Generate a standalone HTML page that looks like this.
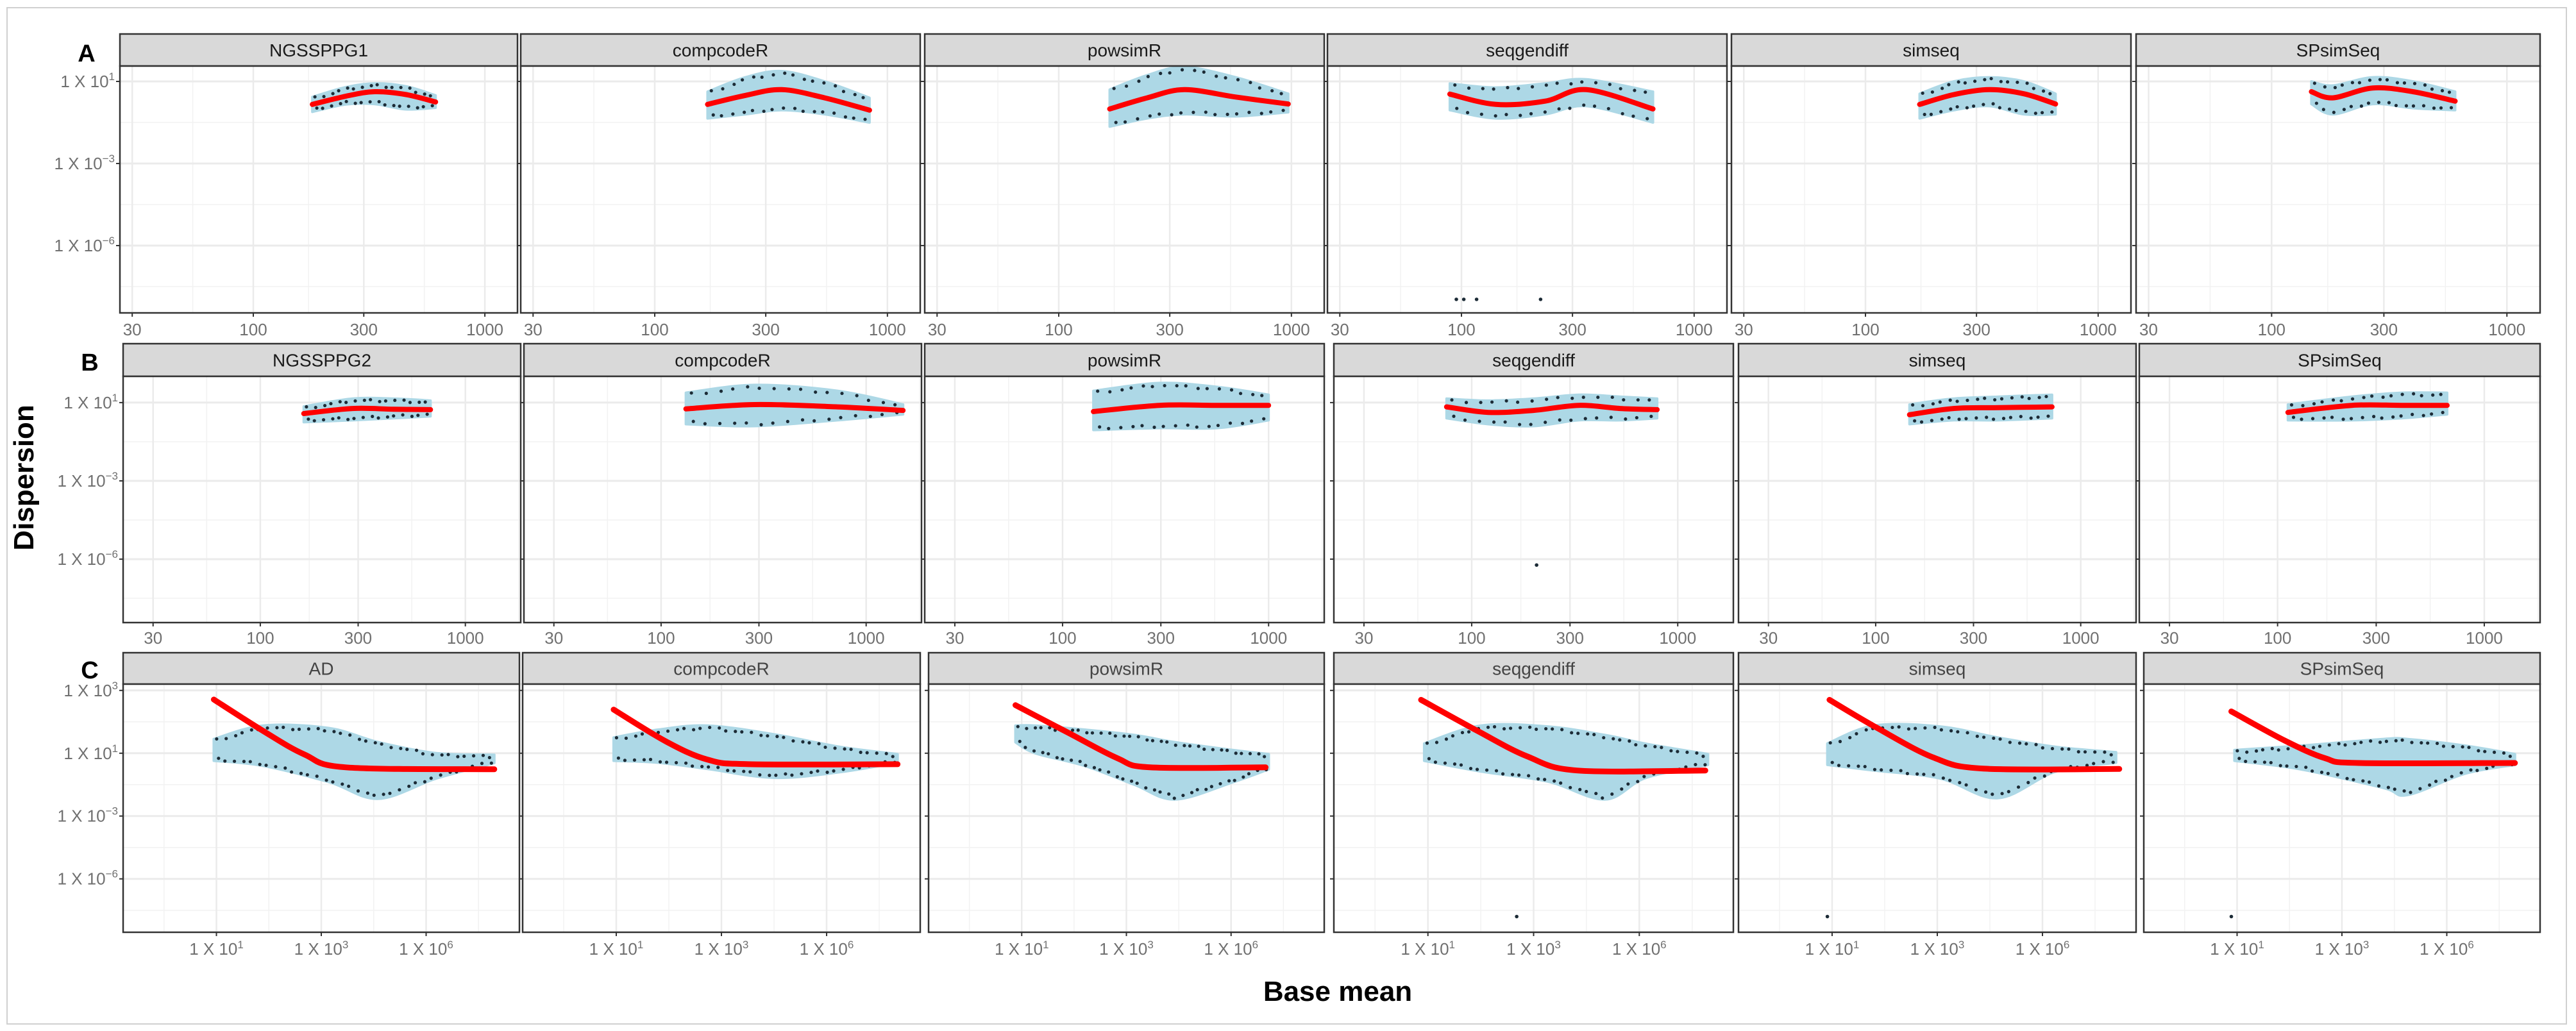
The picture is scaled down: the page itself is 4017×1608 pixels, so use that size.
<!DOCTYPE html>
<html><head><meta charset="utf-8"><style>
html,body{margin:0;padding:0;background:#fff;}
svg{display:block;font-family:"Liberation Sans",sans-serif;}
</style></head><body>
<svg id="fig" width="4017" height="1608" viewBox="0 0 4017 1608" xmlns="http://www.w3.org/2000/svg">
<rect x="11" y="12" width="3991" height="1585" fill="#fff" stroke="#d0d0d0" stroke-width="2"/>
<text x="0" y="0" transform="translate(52,745) rotate(-90)" text-anchor="middle" font-size="44" font-weight="bold" fill="#000">Dispersion</text>
<text x="2086" y="1561" text-anchor="middle" font-size="44" font-weight="bold" fill="#000">Base mean</text>
</svg>
<script>
// ---------- data (log10 units) ----------
const panelNamesA = ["NGSSPPG1","compcodeR","powsimR","seqgendiff","simseq","SPsimSeq"];
const panelNamesB = ["NGSSPPG2","compcodeR","powsimR","seqgendiff","simseq","SPsimSeq"];
const panelNamesC = ["AD","compcodeR","powsimR","seqgendiff","simseq","SPsimSeq"];

const xTickValsAB = [Math.log10(30), 2, Math.log10(300), 3];
const xTickLabelsAB = ["30","100","300","1000"];
const xTickValsC = [1, 3, 5];
const xTickSupC = ["1","3","6"];
const yTickValsAB = [1, -1, -3];
const yTickSupAB = ["1","\u22123","\u22126"];
const yTickValsC = [3, 1, -1, -3];
const yTickSupC = ["3","1","\u22123","\u22126"];

// Row A: fitted trend + cloud envelope
const fitXA = [
 [2.255,2.40,2.524,2.66,2.787],
 [2.227,2.39,2.546,2.73,2.923],
 [2.219,2.38,2.54,2.76,2.986],
 [1.95,2.147,2.36,2.537,2.823],
 [2.233,2.38,2.532,2.68,2.817],
 [2.169,2.26,2.43,2.6,2.78]];
const fitYA = [
 [0.44,0.64,0.75,0.68,0.5],
 [0.44,0.66,0.8,0.6,0.3],
 [0.33,0.6,0.8,0.62,0.45],
 [0.69,0.44,0.52,0.8,0.33],
 [0.44,0.68,0.8,0.7,0.45],
 [0.75,0.6,0.84,0.75,0.52]];
const cloudHiA = [
 [0.62,0.86,0.95,0.88,0.66],
 [0.75,1.1,1.25,1.0,0.6],
 [0.8,1.15,1.35,1.1,0.7],
 [0.95,0.85,0.95,1.05,0.75],
 [0.7,1.0,1.1,1.0,0.7],
 [1.0,0.9,1.1,1.0,0.75]];
const cloudLoA = [
 [0.26,0.44,0.45,0.32,0.36],
 [0.1,0.2,0.3,0.2,0.0],
 [-0.1,0.1,0.2,0.15,0.25],
 [0.3,0.1,0.2,0.4,0.0],
 [0.1,0.3,0.4,0.2,0.2],
 [0.45,0.2,0.45,0.35,0.3]];

// Row B
const fitXB = [
 [2.212,2.45,2.65,2.83],
 [2.121,2.456,2.86,3.18],
 [2.15,2.47,2.75,3.0],
 [1.878,2.08,2.3,2.52,2.72,2.9],
 [2.165,2.38,2.6,2.86],
 [2.05,2.36,2.6,2.82]];
const fitYB = [
 [0.72,0.85,0.83,0.82],
 [0.84,0.95,0.89,0.8],
 [0.77,0.93,0.93,0.93],
 [0.89,0.75,0.8,0.93,0.85,0.82],
 [0.69,0.85,0.87,0.89],
 [0.75,0.93,0.93,0.93]];
const cloudHiB = [
 [0.9,1.1,1.1,1.05],
 [1.25,1.45,1.3,0.95],
 [1.3,1.5,1.4,1.2],
 [1.1,1.05,1.1,1.2,1.15,1.1],
 [0.95,1.1,1.15,1.2],
 [0.95,1.15,1.25,1.25]];
const cloudLoB = [
 [0.5,0.55,0.6,0.65],
 [0.45,0.4,0.55,0.7],
 [0.3,0.35,0.35,0.55],
 [0.6,0.45,0.4,0.55,0.55,0.6],
 [0.45,0.55,0.55,0.6],
 [0.55,0.55,0.6,0.7]];

// Row C
const fitXC = [
 [0.95,1.89,2.68,3.47,6.3],
 [0.95,1.95,2.73,3.52,6.35],
 [0.88,1.89,2.83,3.45,5.66],
 [0.87,1.94,2.88,3.82,6.25],
 [0.95,1.84,2.93,3.88,6.46],
 [0.89,1.9,2.68,3.32,6.3]];
const fitYC = [
 [2.71,1.71,0.96,0.55,0.49],
 [2.39,1.37,0.8,0.65,0.65],
 [2.53,1.65,0.84,0.55,0.55],
 [2.7,1.71,0.9,0.45,0.45],
 [2.7,1.82,0.86,0.51,0.5],
 [2.33,1.41,0.84,0.69,0.69]];
const cloudXC = [
 [0.95,1.89,3.15,4.09,5.2,6.3],
 [0.95,1.8,2.74,4.0,5.26,6.35],
 [0.88,1.26,2.2,3.15,3.93,5.04,5.72],
 [0.93,2.0,3.27,4.35,5.13,6.3],
 [0.91,1.8,3.05,4.15,5.26,6.4],
 [0.95,2.21,3.78,4.25,5.35,6.3]];
const cloudHiC = [
 [1.45,1.88,1.8,1.35,1.0,0.95],
 [1.5,1.75,1.88,1.6,1.2,0.97],
 [1.88,1.88,1.75,1.58,1.35,1.1,0.97],
 [1.31,1.88,1.85,1.58,1.3,0.97],
 [1.31,1.88,1.85,1.5,1.2,1.03],
 [1.1,1.24,1.45,1.45,1.24,0.97]];
const cloudLoC = [
 [0.76,0.6,0.08,-0.45,0.2,0.69],
 [0.76,0.7,0.5,0.22,0.4,0.7],
 [1.35,1.0,0.6,0.0,-0.47,0.08,0.49],
 [0.76,0.42,0.1,-0.47,0.22,0.63],
 [0.63,0.45,0.2,-0.43,0.42,0.7],
 [0.76,0.49,-0.1,-0.33,0.35,0.63]];

// Isolated low outlier genes
const outPanelA = [3,3,3,3];
const outXA = [1.978,2.01,2.065,2.34];
const outYA = [-4.31,-4.31,-4.31,-4.31];
const outPanelB = [3];
const outXB = [2.315];
const outYB = [-3.15];
const outPanelC = [3,4,5];
const outXC = [2.68,0.91,0.89];
const outYC = [-4.2,-4.2,-4.2];

// ---------- layout ----------
const rows = [
 {key:"A", names:panelNamesA, stripTop:53, stripBot:103, bot:488,
  lefts:[187,812,1442,2070,2700,3331], rights:[807,1435,2065,2693,3323,3961],
  xd:[1.424,3.141], yd:[1.375,-4.64], letterY:96, letterX:135,
  fitX:fitXA, fitY:fitYA, cX:fitXA, cHi:cloudHiA, cLo:cloudLoA,
  oP:outPanelA, oX:outXA, oY:outYA, lw:8, labY:523},
 {key:"B", names:panelNamesB, stripTop:536, stripBot:587, bot:971,
  lefts:[192,817,1442,2080,2711,3336], rights:[812,1437,2065,2703,3331,3961],
  xd:[1.331,3.27], yd:[1.67,-4.62], letterY:578, letterX:140,
  fitX:fitXB, fitY:fitYB, cX:fitXB, cHi:cloudHiB, cLo:cloudLoB,
  oP:outPanelB, oX:outXB, oY:outYB, lw:8, labY:1004},
 {key:"C", names:panelNamesC, stripTop:1018, stripBot:1067, bot:1454,
  lefts:[192,815,1448,2080,2711,3343], rights:[810,1435,2065,2703,3331,3961],
  xd:[-0.78,6.78], yd:[3.2,-4.7], letterY:1058, letterX:140,
  fitX:fitXC, fitY:fitYC, cX:cloudXC, cHi:cloudHiC, cLo:cloudLoC,
  oP:outPanelC, oX:outXC, oY:outYC, lw:9, labY:1489}
];

const NS = "http://www.w3.org/2000/svg";
const svg = document.getElementById("fig");
function mk(tag, attrs, parent){
  const e = document.createElementNS(NS, tag);
  for (const k in attrs) e.setAttribute(k, attrs[k]);
  (parent||svg).appendChild(e);
  return e;
}
function smooth(pts){
  if (pts.length < 2) return "";
  let d = "M" + pts[0][0].toFixed(1) + "," + pts[0][1].toFixed(1);
  for (let i = 0; i < pts.length - 1; i++){
    const p0 = pts[i-1] || pts[i], p1 = pts[i], p2 = pts[i+1], p3 = pts[i+2] || p2;
    const c1 = [p1[0] + (p2[0]-p0[0])/6, p1[1] + (p2[1]-p0[1])/6];
    const c2 = [p2[0] - (p3[0]-p1[0])/6, p2[1] - (p3[1]-p1[1])/6];
    d += "C" + c1[0].toFixed(1)+","+c1[1].toFixed(1)+" "+c2[0].toFixed(1)+","+c2[1].toFixed(1)+" "+p2[0].toFixed(1)+","+p2[1].toFixed(1);
  }
  return d;
}
function interp(xs, ys, x){
  if (x <= xs[0]) return ys[0];
  for (let i = 0; i < xs.length-1; i++){
    if (x <= xs[i+1]) { const t = (x-xs[i])/(xs[i+1]-xs[i]); return ys[i] + t*(ys[i+1]-ys[i]); }
  }
  return ys[ys.length-1];
}

rows.forEach((r, ri) => {
  const letter = mk("text", {x:r.letterX, y:r.letterY, "text-anchor":"middle", "font-size":"38", "font-weight":"bold", fill:"#000"});
  
  
  letter.textContent = r.key;

  r.names.forEach((name, pi) => {
    const L = r.lefts[pi], R = r.rights[pi], T = r.stripBot, B = r.bot;
    const sx = v => L + (v - r.xd[0]) / (r.xd[1] - r.xd[0]) * (R - L);
    const sy = v => T + (r.yd[0] - v) / (r.yd[0] - r.yd[1]) * (B - T);
    const g = mk("g", {});
    
    

    // strip
    const strip = mk("rect", {x:L, y:r.stripTop, width:R-L, height:r.stripBot-r.stripTop, fill:"#d9d9d9", stroke:"#333", "stroke-width":"2.5"}, g);
    
    
    const st = mk("text", {x:(L+R)/2, y:(r.stripTop+r.stripBot)/2 + 10, "text-anchor":"middle", "font-size":"28", fill: ri===2 ? "#444" : "#1a1a1a"}, g);
    
    
    st.textContent = name;

    // background + grid
    mk("rect", {x:L, y:T, width:R-L, height:B-T, fill:"#fff"}, g);
    const xt = ri===2 ? xTickValsC : xTickValsAB;
    const yt = ri===2 ? yTickValsC : yTickValsAB;
    // minor grid (midpoints + extrapolated)
    const xMin = [], yMin = [];
    for (let i = 0; i < xt.length-1; i++) xMin.push((xt[i]+xt[i+1])/2);
    if (ri===2) { xMin.push(xt[0]-1); xMin.push(xt[xt.length-1]+1); }
    else { xMin.push(xt[0]-(xt[1]-xt[0])/2); xMin.push(3 + 0.26); }
    for (let i = 0; i < yt.length-1; i++) yMin.push((yt[i]+yt[i+1])/2);
    yMin.push(yt[yt.length-1]-1);
    if (ri===2) yMin.push(yt[0]+1); else yMin.push(yt[0]+1);
    xMin.forEach(v => { const x = sx(v); if (x>L && x<R) mk("line", {x1:x, x2:x, y1:T, y2:B, stroke:"#f2f2f2", "stroke-width":"1.5"}, g); });
    yMin.forEach(v => { const y = sy(v); if (y>T && y<B) mk("line", {x1:L, x2:R, y1:y, y2:y, stroke:"#f2f2f2", "stroke-width":"1.5"}, g); });
    xt.forEach(v => { const x = sx(v); mk("line", {x1:x, x2:x, y1:T, y2:B, stroke:"#ebebeb", "stroke-width":"2.5"}, g); });
    yt.forEach(v => { const y = sy(v); mk("line", {x1:L, x2:R, y1:y, y2:y, stroke:"#ebebeb", "stroke-width":"3"}, g); });

    // cloud
    const cx = r.cX[pi], hi = r.cHi[pi], lo = r.cLo[pi];
    const up = cx.map((v,i) => [sx(v), sy(hi[i])]);
    const dn = cx.map((v,i) => [sx(v), sy(lo[i])]).reverse();
    let d = smooth(up);
    d += "L" + dn[0][0].toFixed(1) + "," + dn[0][1].toFixed(1) + smooth(dn).replace(/^M[^C]*/, "") + "Z";
    const cloud = mk("path", {d:d, fill:"#add8e6", stroke:"#add8e6", "stroke-width":"4", "stroke-linejoin":"round"}, g);
    
    

    // dark gene points along envelope edges
    const n = ri===2 ? 34 : 16;
    for (let k = 0; k < n; k++){
      const v = cx[0] + (cx[cx.length-1]-cx[0]) * (k+0.5)/n;
      const yh = interp(cx, hi, v), yl = interp(cx, lo, v);
      [yh, yl].forEach((yy, j) => {
        const dot = mk("circle", {cx:sx(v) + ((k*7+j*3)%5 - 2), cy:sy(yy) + (j? -3 : 3) + ((k*3)%4 - 1.5), r:"2.6", fill:"#1c2b36"}, g);
        
        
      });
    }

    // fitted trend
    const fp = r.fitX[pi].map((v,i) => [sx(v), sy(r.fitY[pi][i])]);
    const fit = mk("path", {d:smooth(fp), fill:"none", stroke:"#ff0000", "stroke-width":r.lw, "stroke-linecap":"round", "stroke-linejoin":"round"}, g);
    
    

    // outliers
    r.oP.forEach((p, i) => {
      if (p !== pi) return;
      const o = mk("circle", {cx:sx(r.oX[i]), cy:sy(r.oY[i]), r:"2.8", fill:"#1c2b36"}, g);
      
      
    });

    // border
    mk("rect", {x:L, y:T, width:R-L, height:B-T, fill:"none", stroke:"#333", "stroke-width":"2.5"}, g);

    // ticks + labels
    xt.forEach((v, i) => {
      const x = sx(v);
      mk("line", {x1:x, x2:x, y1:B, y2:B+6, stroke:"#333", "stroke-width":"2"}, g);
      const t = mk("text", {x:x, y:r.labY, "text-anchor":"middle", "font-size":"26", fill:"#707070"}, g);
      
      
      if (ri===2){
        t.textContent = "1 X 10";
        const s = mk("tspan", {dy:"-10", "font-size":"17"}, t);
        s.textContent = xTickSupC[i];
      } else {
        t.textContent = xTickLabelsAB[i];
      }
    });
    yt.forEach((v, i) => {
      const y = sy(v);
      mk("line", {x1:L-6, x2:L, y1:y, y2:y, stroke:"#333", "stroke-width":"2"}, g);
      if (pi === 0){
        const t = mk("text", {x:L-8, y:y+9, "text-anchor":"end", "font-size":"26", fill:"#707070"}, g);
        
        
        t.textContent = "1 X 10";
        const s = mk("tspan", {dy:"-11", "font-size":"17"}, t);
        s.textContent = (ri===2 ? yTickSupC : yTickSupAB)[i];
      }
    });
  });
});
</script>
</body></html>
